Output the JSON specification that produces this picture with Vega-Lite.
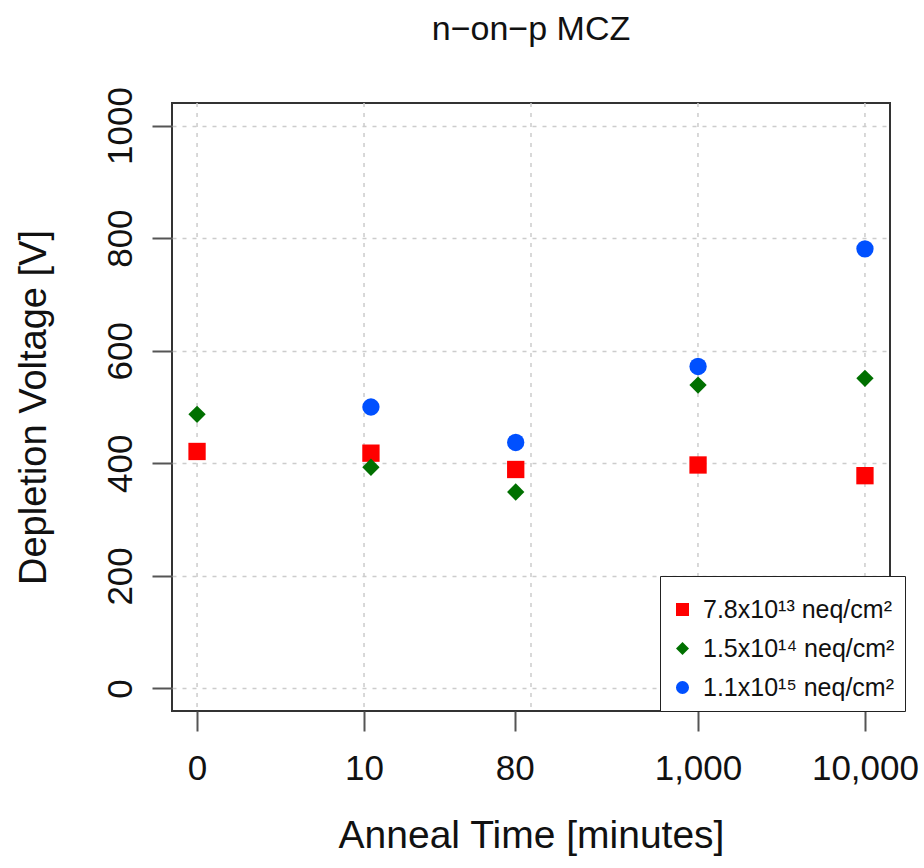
{
  "$schema": "https://vega.github.io/schema/vega-lite/v6.json",
  "autosize": {"type": "none"},
  "width": 718,
  "height": 608,
  "padding": {"left": 172, "top": 103, "right": 34, "bottom": 157},
  "background": "white",
  "config": {
    "font": "Liberation Sans",
    "view": {"stroke": "#333333", "strokeWidth": 2}
  },
  "title": {
    "text": "n−on−p MCZ",
    "fontSize": 34,
    "fontWeight": "normal",
    "color": "#111111",
    "anchor": "middle",
    "offset": 40
  },
  "layer": [
    {
      "data": {"values": [{"g": 0}, {"g": 9}, {"g": 99}, {"g": 999}, {"g": 9999}]},
      "mark": {"type": "rule", "color": "#cccccc", "strokeDash": [4, 6], "strokeWidth": 1.5},
      "encoding": {
        "x": {
          "field": "g", "type": "quantitative",
          "scale": {"type": "symlog", "constant": 1, "domain": [-0.4125, 14125], "nice": false, "zero": false},
          "axis": {
            "title": "Anneal Time [minutes]",
            "values": [0, 9, 79, 999, 9999],
            "labelExpr": "datum.value == 0 ? '0' : format(datum.value + 1, ',')",
            "grid": false, "domain": false,
            "ticks": true, "tickSize": 20, "tickWidth": 2, "tickColor": "#555555",
            "labelFontSize": 35, "labelColor": "#111111", "labelPadding": 20, "labelFlush": false,
            "titleFontSize": 39, "titleFontWeight": "normal", "titleColor": "#111111", "titlePadding": 30
          }
        }
      }
    },
    {
      "data": {"values": [
        {"minutes": 0, "voltage": 421, "fluence": "7.8x10¹³ neq/cm²"},
        {"minutes": 10, "voltage": 418, "fluence": "7.8x10¹³ neq/cm²"},
        {"minutes": 80, "voltage": 389, "fluence": "7.8x10¹³ neq/cm²"},
        {"minutes": 1000, "voltage": 397, "fluence": "7.8x10¹³ neq/cm²"},
        {"minutes": 10000, "voltage": 378, "fluence": "7.8x10¹³ neq/cm²"},
        {"minutes": 0, "voltage": 487, "fluence": "1.5x10¹⁴ neq/cm²"},
        {"minutes": 10, "voltage": 393, "fluence": "1.5x10¹⁴ neq/cm²"},
        {"minutes": 80, "voltage": 349, "fluence": "1.5x10¹⁴ neq/cm²"},
        {"minutes": 1000, "voltage": 539, "fluence": "1.5x10¹⁴ neq/cm²"},
        {"minutes": 10000, "voltage": 551, "fluence": "1.5x10¹⁴ neq/cm²"},
        {"minutes": 10, "voltage": 500, "fluence": "1.1x10¹⁵ neq/cm²"},
        {"minutes": 80, "voltage": 437, "fluence": "1.1x10¹⁵ neq/cm²"},
        {"minutes": 1000, "voltage": 572, "fluence": "1.1x10¹⁵ neq/cm²"},
        {"minutes": 10000, "voltage": 781, "fluence": "1.1x10¹⁵ neq/cm²"}
      ]},
      "mark": {"type": "point", "filled": true, "opacity": 1, "size": 300},
      "encoding": {
        "x": {
          "field": "minutes", "type": "quantitative",
          "scale": {"type": "symlog", "constant": 1, "domain": [-0.4125, 14125], "nice": false, "zero": false},
          "axis": {
            "title": "Anneal Time [minutes]",
            "values": [0, 9, 79, 999, 9999],
            "labelExpr": "datum.value == 0 ? '0' : format(datum.value + 1, ',')",
            "grid": false, "domain": false,
            "ticks": true, "tickSize": 20, "tickWidth": 2, "tickColor": "#555555",
            "labelFontSize": 35, "labelColor": "#111111", "labelPadding": 20, "labelFlush": false,
            "titleFontSize": 39, "titleFontWeight": "normal", "titleColor": "#111111", "titlePadding": 30
          }
        },
        "y": {
          "field": "voltage", "type": "quantitative",
          "scale": {"domain": [-40, 1040], "nice": false, "zero": false},
          "axis": {
            "title": "Depletion Voltage [V]",
            "values": [0, 200, 400, 600, 800, 1000],
            "format": "d",
            "labelAngle": -90, "labelAlign": "center", "labelBaseline": "bottom",
            "grid": true, "gridColor": "#cccccc", "gridDash": [4, 6], "gridWidth": 1.5,
            "domain": false,
            "tickSize": 20, "tickWidth": 2, "tickColor": "#555555",
            "labelFontSize": 35, "labelColor": "#111111", "labelPadding": 14, "labelFlush": false,
            "titleFontSize": 38, "titleFontWeight": "normal", "titleColor": "#111111", "titlePadding": 50
          }
        },
        "color": {
          "field": "fluence", "type": "nominal",
          "scale": {"domain": ["7.8x10¹³ neq/cm²", "1.5x10¹⁴ neq/cm²", "1.1x10¹⁵ neq/cm²"], "range": ["#ff0000", "#007000", "#0050ff"]},
          "legend": {
            "title": " ", "titleFontSize": 9, "titlePadding": 2,
            "orient": "none", "legendX": 488, "legendY": 473,
            "direction": "vertical",
            "strokeColor": "#222222", "fillColor": "white", "padding": 10,
            "labelFontSize": 25, "labelColor": "#111111", "labelLimit": 300,
            "rowPadding": 13, "symbolSize": 170,
            "labelOffset": 8,
            "symbolStrokeWidth": 0,
            "encode": {"symbols": {"update": {"size": {"value": 170}}}}
          }
        },
        "shape": {
          "field": "fluence", "type": "nominal",
          "scale": {"domain": ["7.8x10¹³ neq/cm²", "1.5x10¹⁴ neq/cm²", "1.1x10¹⁵ neq/cm²"], "range": ["square", "diamond", "circle"]},
          "legend": null
        }
      }
    }
  ]
}
